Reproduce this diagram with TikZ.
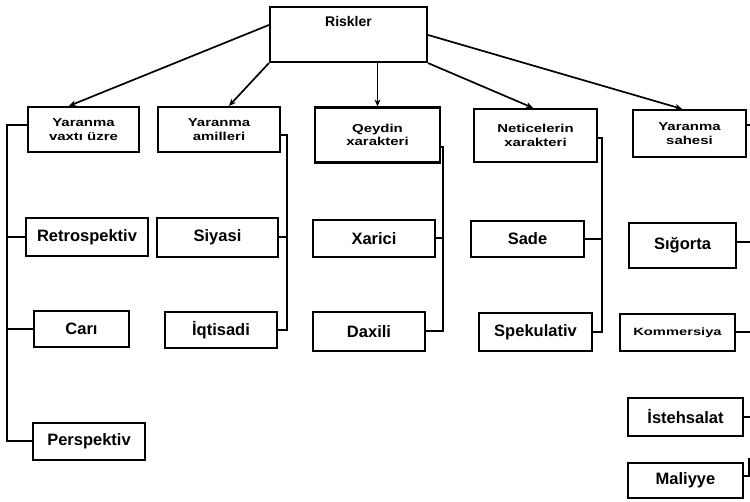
\documentclass[tikz,border=0pt]{standalone}
\usepackage{fontspec}
\setmainfont{Liberation Sans}
\usepackage{graphicx}
\usetikzlibrary{arrows.meta}

% widened small type used in the heading boxes
\newcommand{\widetext}[2][1.3]{\scalebox{#1}[1]{#2}}

\begin{document}
\begin{tikzpicture}[x=1pt,y=-1pt,
  box/.style={draw, line width=2.2pt, inner sep=0pt, align=center},
  headbox/.style={box, font=\bfseries\fontsize{11.5}{13.5}\selectfont},
  itembox/.style={box, font=\bfseries\fontsize{16.5}{18}\selectfont},
  conn/.style={line width=1.7pt, -{Stealth[length=7pt,width=6pt]}},
  bracket/.style={line width=2pt},
]
\useasboundingbox (0,0) rectangle (750,502);

% root
\node[box, minimum width=157pt, minimum height=55pt] (R) at (348.5,34.5) {};
\node[font=\bfseries\fontsize{14}{16}\selectfont] (Rt) at (348.5,22) {Riskler};

% classification headings
\node[headbox, minimum width=111pt, minimum height=45pt] (V) at (83.5,129.5)
  {\widetext{Yaranma}\\\widetext{vaxtı üzre}};
\node[headbox, minimum width=122pt, minimum height=45pt] (A) at (219,129.5)
  {\widetext{Yaranma}\\\widetext{amilleri}};
\node[headbox, minimum width=125pt, minimum height=55pt] (Q) at (377.5,135)
  {\widetext{Qeydin}\\\widetext{xarakteri}};
\node[headbox, minimum width=123pt, minimum height=53pt] (N) at (535.5,135.5)
  {\widetext{Neticelerin}\\\widetext{xarakteri}};
\node[headbox, minimum width=113pt, minimum height=47pt] (S) at (689.5,133.5)
  {\widetext{Yaranma}\\\widetext{sahesi}};

% arrows from the root
\draw[conn] ([yshift=9.5pt]R.west) -- ([xshift=-14.5pt]V.north);
\draw[conn] (R.south west) -- ([xshift=10pt]A.north);
\draw[conn] (Q.north |- R.south) -- (Q.north);
\draw[conn] (R.south east) -- ([xshift=-2.5pt]N.north);
\draw[conn] ([yshift=-0.5pt]R.east) -- ([xshift=-7.5pt]S.north);

% by time of origin
\node[itembox, minimum width=122pt, minimum height=38pt] (R1) at (87,237) {Retrospektiv};
\node[itembox, minimum width=95pt, minimum height=36pt] (C1) at (81.5,329) {Carı};
\node[itembox, minimum width=112pt, minimum height=37pt] (P1) at (89,441.5) {Perspektiv};

% by factors
\node[itembox, minimum width=121pt, minimum height=39pt] (A1) at (217.5,237.5) {Siyasi};
\node[itembox, minimum width=112pt, minimum height=36pt] (A2) at (221,330) {İqtisadi};

% by recording
\node[itembox, minimum width=122pt, minimum height=37pt] (Q1) at (374,238.5) {Xarici};
\node[itembox, minimum width=112pt, minimum height=39pt] (Q2) at (369,331.5) {Daxili};

% by consequences
\node[itembox, minimum width=113pt, minimum height=36pt] (N1) at (527.5,239) {Sade};
\node[itembox, minimum width=113pt, minimum height=38pt] (N2) at (535.5,332) {Spekulativ};

% by sphere of origin
\node[itembox, minimum width=107pt, minimum height=45pt] (S1) at (682.5,245.5) {Sığorta};
\node[box, minimum width=115pt, minimum height=37pt,
      font=\bfseries\fontsize{10.5}{12}\selectfont] (S2) at (677.5,332.5) {\widetext[1.4]{Kommersiya}};
\node[itembox, minimum width=115pt, minimum height=38pt] (S3) at (685.5,417) {İstehsalat};
\node[itembox, minimum width=115pt, minimum height=35pt] (S4) at (685.5,480.5) {Maliyye};

% bracket rails
\coordinate (vx) at (7,0);
\coordinate (ax) at (287,0);
\coordinate (qx) at (443,0);
\coordinate (nx) at (602,0);

\draw[bracket] ([yshift=4.5pt]V.west) -| (vx |- P1.west) -- (P1.west);
\draw[bracket] (vx |- R1.west) -- (R1.west);
\draw[bracket] (vx |- C1.west) -- (C1.west);

\draw[bracket] ([yshift=-5.5pt]A.east) -| (ax |- A2.east) -- (A2.east);
\draw[bracket] (ax |- A1.east) -- (A1.east);

\draw[bracket] ([yshift=-12pt]Q.east) -| (qx |- Q2.east) -- (Q2.east);
\draw[bracket] (qx |- Q1.east) -- (Q1.east);

\draw[bracket] ([yshift=-2.5pt]N.east) -| (nx |- N2.east) -- (N2.east);
\draw[bracket] (nx |- N1.east) -- (N1.east);

% stubs running off the right edge
\draw[bracket] ([yshift=8.5pt]S.east) -- ++(6,0);
\draw[bracket] ([yshift=3.5pt]S1.east) -- ++(16,0);
\draw[bracket] (S2.east) -- ++(17,0);
\draw[bracket] (S3.east) -- ++(9,0);
\draw[bracket] ([yshift=4.5pt]S4.east) -- ++(5,0) -- ++(0,-18);
\end{tikzpicture}
\end{document}
